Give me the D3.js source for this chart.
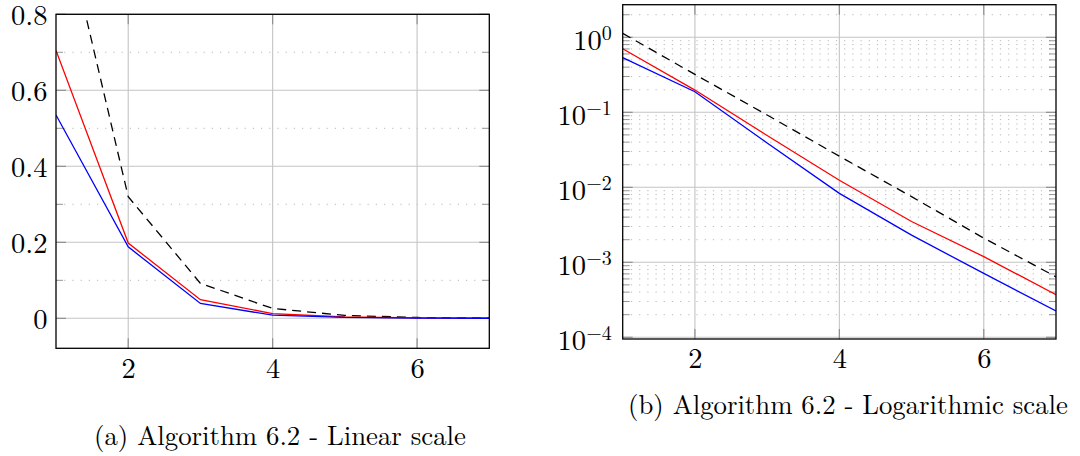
<!DOCTYPE html>
<html>
<head>
<meta charset="utf-8">
<script src="https://cdn.jsdelivr.net/npm/d3@7"></script>
<style>
  html, body { margin: 0; padding: 0; background: #fff; }
  svg { display: block; }
</style>
</head>
<body>
<svg id="chart" width="1080" height="456"></svg>
<script>
// ---- data ----
const iterations = [1, 2, 3, 4, 5, 6, 7];
const referenceSeries = [1.13, 0.32, 0.092, 0.026, 0.0075, 0.0021, 0.00064];   // black dashed
const redSeries = [0.705, 0.198, 0.049, 0.0124, 0.0035, 0.00119, 0.00037];
const blueSeries = [0.535, 0.188, 0.039, 0.0083, 0.0023, 0.00071, 0.000224];
const xTickValues = [2, 4, 6];
const linearYTicks = [0, 0.2, 0.4, 0.6, 0.8];
const linearYMinor = [0.1, 0.3, 0.5, 0.7];
const logYTicks = [1e-4, 1e-3, 1e-2, 1e-1, 1];
const logExponents = ["−4", "−3", "−2", "−1", "0"];
const captionA = "(a) Algorithm 6.2 - Linear scale";
const captionB = "(b) Algorithm 6.2 - Logarithmic scale";

const FONT = '"Latin Modern Roman", "CMU Serif", "Liberation Serif", serif';
const LABEL_SIZE = "28.5px";
const svg = d3.select("#chart");
const series = [
  { values: referenceSeries, color: "#000", dash: "9,6" },
  { values: redSeries, color: "#ff0000", dash: null },
  { values: blueSeries, color: "#0000ff", dash: null }
];

const gridMajor = "#c4c4c4";
const gridMinor = "#b0b0b0";
const tickCol = "#8a8a8a";

function drawPanel(opts) {
  const { left, right, top, bottom, y, minor, major, id } = opts;
  const x = d3.scaleLinear().domain([1, 7]).range([left, right]);
  const g = svg.append("g");
  const clipId = "clip" + id;
  svg.append("clipPath").attr("id", clipId).append("rect")
    .attr("x", left).attr("y", top).attr("width", right - left).attr("height", bottom - top);

  g.selectAll(".mg").data(minor).join("line")
    .attr("x1", left).attr("x2", right)
    .attr("y1", d => y(d)).attr("y2", d => y(d))
    .attr("stroke", gridMinor).attr("stroke-width", 0.9).attr("stroke-dasharray", "1.2,7");
  g.selectAll(".Mg").data(major).join("line")
    .attr("x1", left).attr("x2", right)
    .attr("y1", d => y(d)).attr("y2", d => y(d))
    .attr("stroke", gridMajor).attr("stroke-width", 1.1);
  g.selectAll(".vg").data(xTickValues).join("line")
    .attr("y1", top).attr("y2", bottom)
    .attr("x1", d => x(d)).attr("x2", d => x(d))
    .attr("stroke", gridMajor).attr("stroke-width", 1.1);

  [left, right].forEach((ex, i) => {
    const dir = i === 0 ? 1 : -1;
    g.selectAll(null).data(major).join("line")
      .attr("x1", ex).attr("x2", ex + dir * 10)
      .attr("y1", d => y(d)).attr("y2", d => y(d))
      .attr("stroke", tickCol).attr("stroke-width", 1.1);
    g.selectAll(null).data(minor).join("line")
      .attr("x1", ex).attr("x2", ex + dir * 7)
      .attr("y1", d => y(d)).attr("y2", d => y(d))
      .attr("stroke", tickCol).attr("stroke-width", 0.9);
  });
  [top, bottom].forEach((ey, i) => {
    const dir = i === 0 ? 1 : -1;
    g.selectAll(null).data(xTickValues).join("line")
      .attr("y1", ey).attr("y2", ey + dir * 10)
      .attr("x1", d => x(d)).attr("x2", d => x(d))
      .attr("stroke", tickCol).attr("stroke-width", 1.1);
  });

  const line = d3.line().x((d, i) => x(iterations[i])).y(d => y(d));
  const lg = svg.append("g").attr("clip-path", `url(#${clipId})`);
  series.forEach(s => {
    lg.append("path").datum(s.values)
      .attr("d", line)
      .attr("fill", "none")
      .attr("stroke", s.color)
      .attr("stroke-width", 1.3)
      .attr("stroke-dasharray", s.dash);
  });

  svg.append("rect").attr("x", left).attr("y", top)
    .attr("width", right - left).attr("height", bottom - top)
    .attr("fill", "none").attr("stroke", "#000").attr("stroke-width", 1.3);

  const xa = svg.append("g").attr("transform", `translate(0,${bottom})`)
    .call(d3.axisBottom(x).tickValues(xTickValues).tickSize(0).tickPadding(0).tickFormat(d3.format("d")));
  xa.select(".domain").remove();
  xa.selectAll("text").style("font-family", FONT).style("font-size", LABEL_SIZE).style("fill", "#000")
    .attr("dy", null).attr("y", 29.2);
  return { x };
}

// ---- linear panel ----
const yLin = d3.scaleLinear().domain([-0.0789, 0.8]).range([348.3, 14.3]);
drawPanel({ left: 56, right: 489.3, top: 14.3, bottom: 348.3, y: yLin,
  minor: linearYMinor, major: linearYTicks, id: "a" });
const ya = svg.append("g").attr("transform", "translate(56,0)")
  .call(d3.axisLeft(yLin).tickValues(linearYTicks).tickSize(0).tickPadding(8.5)
    .tickFormat(d => d === 0 ? "0" : d3.format(".1f")(d)));
ya.select(".domain").remove();
ya.selectAll("text").style("font-family", FONT).style("font-size", LABEL_SIZE).style("fill", "#000")
  .attr("dy", "0.34em");

// ---- log panel ----
const yLog = d3.scaleLog().domain([Math.pow(10, -4.023), Math.pow(10, 0.435)]).range([339, 4.7]);
const logMinor = [];
for (let e = -4; e <= 0; e++) for (let m = 2; m <= 9; m++) {
  const v = m * Math.pow(10, e);
  if (v <= yLog.domain()[1]) logMinor.push(v);
}
drawPanel({ left: 622.7, right: 1056, top: 4.7, bottom: 339, y: yLog,
  minor: logMinor, major: logYTicks, id: "b" });
const yb = svg.append("g").attr("transform", "translate(622.7,0)")
  .call(d3.axisLeft(yLog).tickValues(logYTicks).tickSize(0).tickPadding(11).tickFormat(""));
yb.select(".domain").remove();
yb.selectAll(".tick text").each(function(d, i) {
  const t = d3.select(this).style("font-family", FONT).style("font-size", LABEL_SIZE).style("fill", "#000")
    .attr("dy", null).attr("y", 12).attr("x", -11);
  t.text(null);
  t.append("tspan").text("10");
  t.append("tspan").style("font-size", "20px").attr("dy", -10).text(logExponents[i]);
});

// ---- captions ----
function caption(txt, cx, baseY, width) {
  const t = svg.append("text").attr("x", cx).attr("y", baseY).attr("text-anchor", "middle")
    .style("font-family", FONT).style("font-size", "24px").style("fill", "#000").text(txt);
  const w = t.node().getComputedTextLength();
  t.style("font-size", (24 * width / w) + "px");
}
caption(captionA, 280, 445, 372);
caption(captionB, 848, 414, 440);
</script>
</body>
</html>
